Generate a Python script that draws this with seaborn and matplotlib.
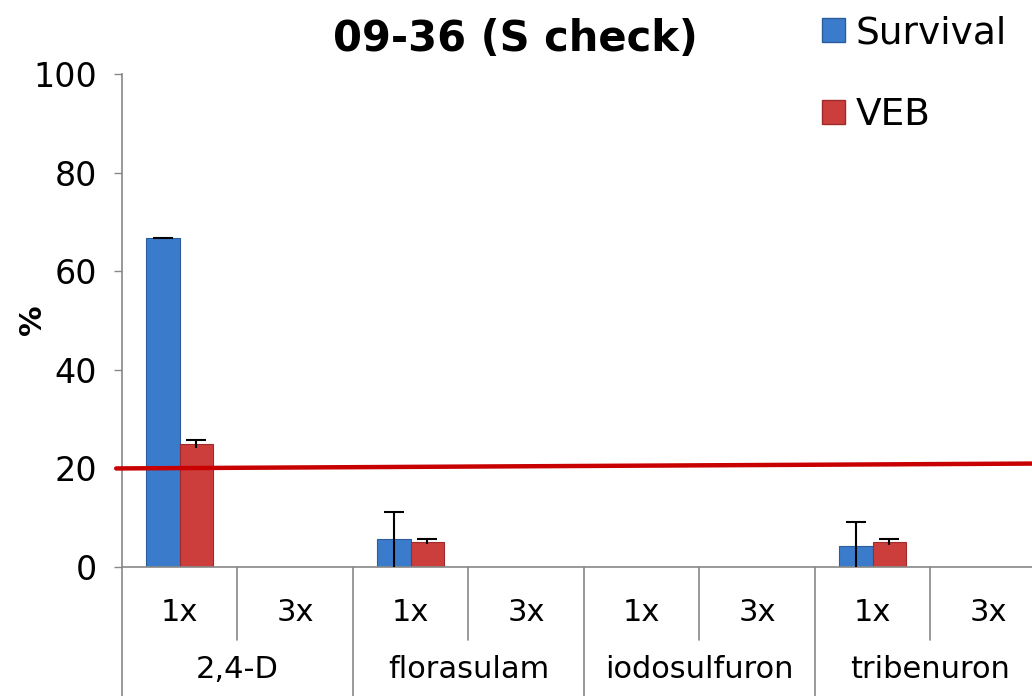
import numpy as np
import pandas as pd
import matplotlib
matplotlib.use("Agg")
import matplotlib.pyplot as plt
import matplotlib.transforms as mtransforms
from matplotlib.patches import Patch
import seaborn as sns

# ---- data ----
herbicides = ["2,4-D", "florasulam", "iodosulfuron", "tribenuron"]
rates = ["1x", "3x"]
survival = [66.7, 0, 5.6, 0, 0, 0, 4.3, 0]
survival_err = [0.0, np.nan, 5.6, np.nan, np.nan, np.nan, 4.8, np.nan]
veb = [25.0, 0, 5.1, 0, 0, 0, 5.1, 0]
veb_err = [0.8, np.nan, 0.5, np.nan, np.nan, np.nan, 0.6, np.nan]
threshold_x = [-0.55, 7.5]
threshold_y = [20, 21]

slots = [f"{h} {r}" for h in herbicides for r in rates]
df = pd.concat([
    pd.DataFrame({"slot": slots, "series": "Survival", "value": survival, "err": survival_err}),
    pd.DataFrame({"slot": slots, "series": "VEB", "value": veb, "err": veb_err}),
], ignore_index=True)

palette = {"Survival": "#3B7BCB", "VEB": "#CC3E3C"}
edge = {"Survival": "#2A5C9E", "VEB": "#9E2B2A"}

sns.set_style("white")
plt.rcParams["font.family"] = ["DejaVu Sans"]
plt.rcParams["text.color"] = "black"
plt.rcParams["axes.labelcolor"] = "black"
plt.rcParams["ytick.color"] = "black"

fig = plt.figure(figsize=(10.32, 6.96), dpi=100)
ax = fig.add_axes([0.1182, 0.1853, 0.8953, 0.7083])

sns.barplot(data=df, x="slot", y="value", hue="series", order=slots,
            palette=palette, width=0.58, errorbar=None, saturation=1,
            linewidth=0, ax=ax, legend=False)

# error bars on each bar (lower cap hidden, like the source)
for container, level in zip(ax.containers, ["Survival", "VEB"]):
    sub = df[df["series"] == level]
    for bar, val, err in zip(container, sub["value"], sub["err"]):
        bar.set_edgecolor(edge[level])
        bar.set_linewidth(0.8 if val > 0 else 0)
        if np.isnan(err):
            continue
        xc = bar.get_x() + bar.get_width() / 2
        eb = ax.errorbar(xc, val, yerr=[[err], [err]], fmt="none", ecolor="black",
                         elinewidth=1.5, capsize=7, capthick=1.5, zorder=5)
        eb[1][0].set_visible(False)

# threshold line
ax.plot(threshold_x, threshold_y, color="#C80000", lw=3.2, zorder=6, clip_on=False)

ax.set_ylim(0, 100)
ax.set_xlim(-0.5, len(slots) - 0.5)
ax.set_yticks([0, 20, 40, 60, 80, 100])
ax.tick_params(axis="y", labelsize=24, length=6, width=1, color="#888888",
               labelcolor="black", direction="out", left=True, pad=12)
ax.set_xticks([])
ax.set_xlabel("")
ax.set_ylabel("")
for s in ["top", "right"]:
    ax.spines[s].set_visible(False)
for s in ["left", "bottom"]:
    ax.spines[s].set_color("#888888")
    ax.spines[s].set_linewidth(1.2)

fig.text(32 / 1032, 1 - 320 / 696, "%", rotation=90, ha="center", va="center",
         fontsize=22, fontweight="bold")

# multi-level category axis
trans = mtransforms.blended_transform_factory(ax.transData, ax.transAxes)
for i, r in enumerate(rates * len(herbicides)):
    ax.text(i, -0.093, r, transform=trans, ha="center", va="center", fontsize=22)
for g, h in enumerate(herbicides):
    ax.text(g * 2 + 0.5, -0.207, h, transform=trans, ha="center", va="center", fontsize=22)
for k in range(len(slots) + 1):
    xb = k - 0.5
    y_end = -0.27 if k % 2 == 0 else -0.148
    ax.plot([xb, xb], [0, y_end], transform=trans, color="#888888", lw=1.2, clip_on=False)

# legend
handles = [Patch(facecolor=palette[k], edgecolor=edge[k], label=k) for k in ["Survival", "VEB"]]
fig.legend(handles=handles, loc="upper left", bbox_to_anchor=(0.7965, 0.978), frameon=False,
           fontsize=27, handlelength=0.62, handleheight=0.62, handletextpad=0.27,
           labelspacing=1.22, borderpad=0, borderaxespad=0)

fig.text(515 / 1032, 1 - 39 / 696, "09-36 (S check)", ha="center", va="center",
         fontsize=30, fontweight="bold")

fig.savefig("out.png", dpi=100)
